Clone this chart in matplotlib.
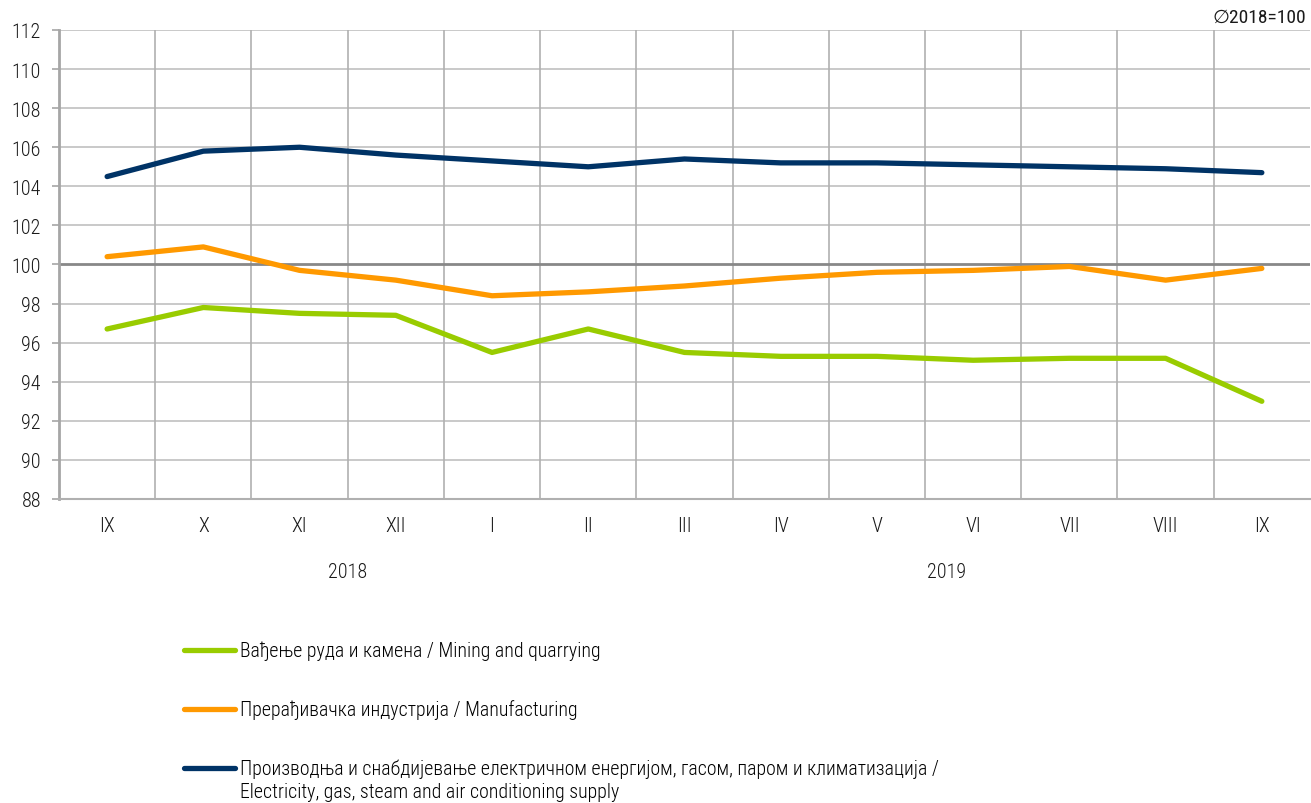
import matplotlib
matplotlib.use("Agg")
import matplotlib.pyplot as plt
from matplotlib.lines import Line2D
import matplotlib.transforms as mtransforms
from matplotlib import font_manager

names = {f.name for f in font_manager.fontManager.ttflist}
condensed = None
for cand in ['Liberation Sans Narrow', 'Arial Narrow', 'Roboto Condensed', 'Open Sans Condensed',
             'Noto Sans Condensed']:
    if cand in names:
        condensed = cand
        break

if condensed:
    fam = [condensed, 'DejaVu Sans']
    tick_fs, leg_fs = 14.5, 14.3
else:
    fam = ['Liberation Sans', 'DejaVu Sans']
    tick_fs, leg_fs = 13.8, 12.8
plt.rcParams['font.family'] = fam
plt.rcParams['font.weight'] = 'light'

months = ["IX", "X", "XI", "XII", "I", "II", "III", "IV", "V", "VI", "VII", "VIII", "IX"]
years = ["2018", "2019"]
year_pos = [2.5, 8.72]

mining = [96.7, 97.8, 97.5, 97.4, 95.5, 96.7, 95.5, 95.3, 95.3, 95.1, 95.2, 95.2, 93.0]
manufacturing = [100.4, 100.9, 99.7, 99.2, 98.4, 98.6, 98.9, 99.3, 99.6, 99.7, 99.9, 99.2, 99.8]
electricity = [104.5, 105.8, 106.0, 105.6, 105.3, 105.0, 105.4, 105.2, 105.2, 105.1, 105.0, 104.9, 104.7]

labels = [
    "Вађење руда и камена / Mining and quarrying",
    "Прерађивачка индустрија / Manufacturing",
    "Производња и снабдијевање електричном енергијом, гасом, паром и климатизација /\nElectricity, gas, steam and air conditioning supply",
]
colors = ["#99cc00", "#ff9900", "#003366"]
series = [mining, manufacturing, electricity]

fig = plt.figure(figsize=(13.11, 8.04), dpi=100)
ax = fig.add_axes([59/1311, (804-500)/804, 1 - 59/1311 - 0.0008, (500-31)/804])

x = list(range(len(months)))
for s, c in zip(series, colors):
    ax.plot(x, s, color=c, lw=3.8, solid_capstyle='round', solid_joinstyle='round', zorder=3)

ax.set_xlim(-0.5, len(months) - 0.5)
ax.set_ylim(88, 112)
ax.set_yticks(range(88, 113, 2))
ax.set_xticks(x)
ax.set_xticklabels(months)

ax.grid(False)
for yv in range(90, 113, 2):
    if yv == 100:
        continue
    ax.axhline(yv, color="#c0c0c0", lw=1.2, zorder=1)
for xv in [i + 0.5 for i in range(0, len(months) - 1)]:
    ax.axvline(xv, color="#b0b0b0", lw=1.2, zorder=1)
ax.axhline(100, color="#888888", lw=2.0, zorder=2)

for sp in ["top", "right"]:
    ax.spines[sp].set_visible(False)
ax.spines["left"].set_color("#a6a6a6")
ax.spines["left"].set_linewidth(2)
ax.spines["bottom"].set_color("#b0b0b0")
ax.spines["bottom"].set_linewidth(1.5)

ax.tick_params(axis='y', which='major', length=5, width=1.2, color="#a6a6a6",
               labelsize=tick_fs, pad=8, labelcolor="#1a1a1a")
ax.tick_params(axis='x', which='major', length=0, labelsize=tick_fs, pad=12, labelcolor="#1a1a1a")

trans = mtransforms.blended_transform_factory(ax.transData, fig.transFigure)
for yr, p in zip(years, year_pos):
    ax.text(p, 1 - 573/804, yr, transform=trans, ha='center', va='center',
            fontsize=tick_fs, color="#1a1a1a")

fig.text(1306/1311, 1 - 18/804, "∅2018=100", ha='right', va='center', fontsize=tick_fs - 0.5,
         color="#1a1a1a", fontweight='normal', family=fam)

leg_y = [651, 710, 769]
for lab, c, yy in zip(labels, colors, leg_y):
    yf = 1 - yy / 804
    fig.add_artist(Line2D([184/1311, 235/1311], [yf, yf], color=c, lw=3.8,
                          solid_capstyle='round', transform=fig.transFigure))
    lines = lab.split('\n')
    fig.text(240/1311, yf, lines[0], ha='left', va='center', fontsize=leg_fs, color="#000000")
    if len(lines) > 1:
        fig.text(240/1311, 1 - 793/804, lines[1], ha='left', va='center', fontsize=leg_fs, color="#000000")

fig.savefig("out.png", dpi=100)
